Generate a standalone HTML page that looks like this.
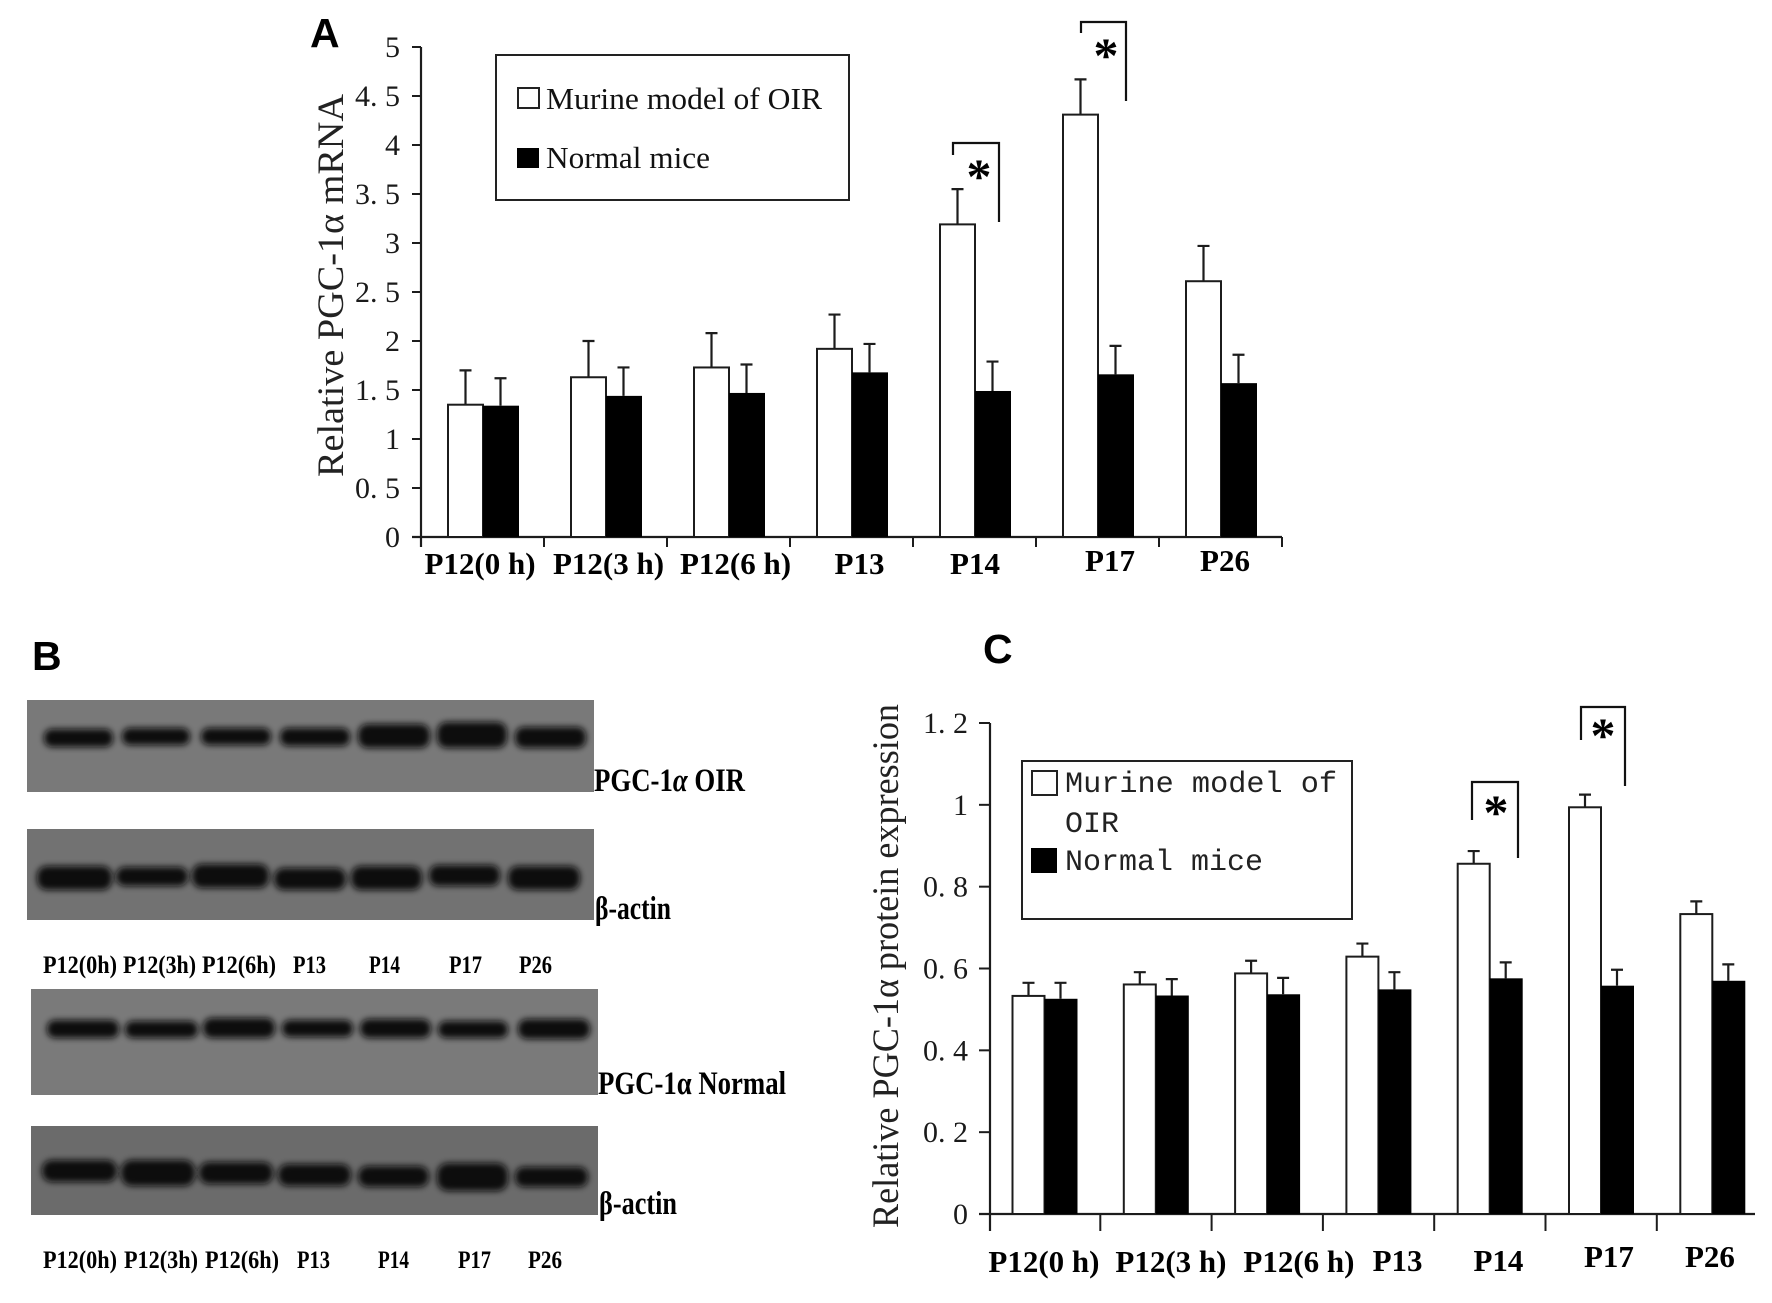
<!DOCTYPE html>
<html lang="en">
<head>
<meta charset="utf-8">
<title>PGC-1α expression in OIR and normal mice</title>
<style>
html,body{margin:0;padding:0;background:#fff;width:1772px;height:1303px;overflow:hidden}
svg{display:block}
text{font-family:"Liberation Serif",serif;fill:#111}
.panel{font-family:"Liberation Sans",sans-serif;font-weight:700;font-size:41px;fill:#000}
.title{font-size:37px;fill:#222}
.tick{font-size:30px;fill:#1a1a1a}
.xl{font-size:31px;font-weight:700;fill:#000}
.leg{font-size:31px;fill:#111}
.legm{font-family:"Liberation Mono",monospace;font-size:30px;fill:#222}
.star{font-size:50px;font-weight:700;fill:#000}
.bl{font-size:33px;font-weight:700;fill:#000}
.ll{font-size:25px;font-weight:700;fill:#000}
</style>
</head>
<body>
<svg id="figure" xmlns="http://www.w3.org/2000/svg" width="1772" height="1303" viewBox="0 0 1772 1303">
<defs>
<filter id="soft" x="-10%" y="-50%" width="120%" height="200%"><feGaussianBlur stdDeviation="3.2"/></filter>
</defs>
<rect width="1772" height="1303" fill="#fff"/>

<text class="panel" x="310" y="47">A</text>
<text class="panel" x="32" y="670">B</text>
<text class="panel" x="983" y="663">C</text>

<g id="chartA"></g>
<g id="chartC"></g>

<text class="title" transform="translate(343,477) rotate(-90)" textLength="383" lengthAdjust="spacingAndGlyphs">Relative PGC-1α mRNA</text>
<text class="title" transform="translate(898,1228) rotate(-90)" textLength="524" lengthAdjust="spacingAndGlyphs">Relative PGC-1α protein expression</text>

<g>
<rect x="496" y="55" width="353" height="145" fill="#fff" stroke="#222" stroke-width="2"/>
<rect x="518" y="88" width="21" height="20" fill="#fff" stroke="#222" stroke-width="2"/>
<text class="leg" x="546" y="109" textLength="276" lengthAdjust="spacingAndGlyphs">Murine model of OIR</text>
<rect x="517" y="148" width="22" height="20" fill="#000"/>
<text class="leg" x="546" y="168" textLength="164" lengthAdjust="spacingAndGlyphs">Normal mice</text>
</g>

<g>
<rect x="1022" y="761" width="330" height="158" fill="#fff" stroke="#222" stroke-width="2"/>
<rect x="1032" y="771" width="25" height="24" fill="#fff" stroke="#222" stroke-width="2"/>
<text class="legm" x="1065" y="792" textLength="272" lengthAdjust="spacingAndGlyphs">Murine model of</text>
<text class="legm" x="1065" y="832" textLength="54" lengthAdjust="spacingAndGlyphs">OIR</text>
<rect x="1031" y="848" width="26" height="25" fill="#000"/>
<text class="legm" x="1065" y="870" textLength="198" lengthAdjust="spacingAndGlyphs">Normal mice</text>
</g>

<g fill="none" stroke="#111" stroke-width="2.2">
<path d="M953 155V143H999V222"/>
<path d="M1081 33V22H1126V101"/>
<path d="M1472 820V782H1518V858"/>
<path d="M1581 740V707H1625V786"/>
</g>
<text class="star" text-anchor="middle" x="979" y="193">*</text>
<text class="star" text-anchor="middle" x="1106" y="72">*</text>
<text class="star" text-anchor="middle" x="1496" y="829">*</text>
<text class="star" text-anchor="middle" x="1603" y="752">*</text>

<g>
<rect x="27" y="700" width="567" height="92" fill="#797979"/>
<g fill="#0e0e0e" filter="url(#soft)">
<rect x="44" y="729" width="69" height="18" rx="8"/>
<rect x="122" y="728" width="68" height="17" rx="8"/>
<rect x="201" y="728" width="70" height="17" rx="8"/>
<rect x="280" y="728" width="70" height="18" rx="8"/>
<rect x="358" y="724" width="72" height="24" rx="10"/>
<rect x="437" y="722" width="70" height="26" rx="10"/>
<rect x="515" y="727" width="71" height="21" rx="9"/>
</g>
</g>
<g>
<rect x="27" y="829" width="567" height="91" fill="#727272"/>
<g fill="#0a0a0a" filter="url(#soft)">
<rect x="37" y="866" width="75" height="24" rx="10"/>
<rect x="116" y="867" width="72" height="19" rx="9"/>
<rect x="192" y="864" width="77" height="24" rx="10"/>
<rect x="274" y="868" width="72" height="22" rx="10"/>
<rect x="351" y="866" width="71" height="24" rx="10"/>
<rect x="429" y="865" width="71" height="21" rx="9"/>
<rect x="508" y="866" width="72" height="24" rx="10"/>
</g>
</g>
<g>
<rect x="31" y="994" width="567" height="106" fill="#7a7a7a" transform="translate(0,-5)"/>
<g fill="#0e0e0e" filter="url(#soft)">
<rect x="47" y="1020" width="72" height="18" rx="8"/>
<rect x="125" y="1021" width="73" height="17" rx="8"/>
<rect x="203" y="1018" width="72" height="20" rx="9"/>
<rect x="282" y="1020" width="71" height="17" rx="8"/>
<rect x="360" y="1019" width="71" height="19" rx="9"/>
<rect x="438" y="1021" width="70" height="17" rx="8"/>
<rect x="518" y="1019" width="72" height="20" rx="9"/>
</g>
</g>
<g>
<rect x="31" y="1126" width="567" height="89" fill="#6b6b6b"/>
<g fill="#0a0a0a" filter="url(#soft)">
<rect x="42" y="1160" width="75" height="22" rx="10"/>
<rect x="121" y="1160" width="74" height="26" rx="11"/>
<rect x="199" y="1162" width="74" height="22" rx="10"/>
<rect x="278" y="1164" width="73" height="22" rx="10"/>
<rect x="358" y="1166" width="71" height="21" rx="10"/>
<rect x="437" y="1163" width="71" height="28" rx="11"/>
<rect x="515" y="1167" width="73" height="20" rx="9"/>
</g>
</g>

<text class="bl" x="594" y="791" textLength="151" lengthAdjust="spacingAndGlyphs">PGC-1<tspan font-style="italic">α</tspan> OIR</text>
<text class="bl" x="595" y="919" textLength="76" lengthAdjust="spacingAndGlyphs">β-actin</text>
<text class="bl" x="598" y="1094" textLength="188" lengthAdjust="spacingAndGlyphs">PGC-1α Normal</text>
<text class="bl" x="599" y="1214" textLength="78" lengthAdjust="spacingAndGlyphs">β-actin</text>

<g class="ll">
<text class="ll" x="43" y="973" textLength="74" lengthAdjust="spacingAndGlyphs">P12(0h)</text>
<text class="ll" x="123" y="973" textLength="73" lengthAdjust="spacingAndGlyphs">P12(3h)</text>
<text class="ll" x="202" y="973" textLength="74" lengthAdjust="spacingAndGlyphs">P12(6h)</text>
<text class="ll" x="293" y="973" textLength="33" lengthAdjust="spacingAndGlyphs">P13</text>
<text class="ll" x="369" y="973" textLength="31" lengthAdjust="spacingAndGlyphs">P14</text>
<text class="ll" x="449" y="973" textLength="33" lengthAdjust="spacingAndGlyphs">P17</text>
<text class="ll" x="519" y="973" textLength="33" lengthAdjust="spacingAndGlyphs">P26</text>
</g>
<g class="ll">
<text class="ll" x="43" y="1268" textLength="74" lengthAdjust="spacingAndGlyphs">P12(0h)</text>
<text class="ll" x="124" y="1268" textLength="74" lengthAdjust="spacingAndGlyphs">P12(3h)</text>
<text class="ll" x="205" y="1268" textLength="74" lengthAdjust="spacingAndGlyphs">P12(6h)</text>
<text class="ll" x="297" y="1268" textLength="33" lengthAdjust="spacingAndGlyphs">P13</text>
<text class="ll" x="378" y="1268" textLength="31" lengthAdjust="spacingAndGlyphs">P14</text>
<text class="ll" x="458" y="1268" textLength="33" lengthAdjust="spacingAndGlyphs">P17</text>
<text class="ll" x="528" y="1268" textLength="34" lengthAdjust="spacingAndGlyphs">P26</text>
</g>
</svg>

<script>
// Shared categories
const categories = ["P12(0 h)", "P12(3 h)", "P12(6 h)", "P13", "P14", "P17", "P26"];

// Panel A data: relative PGC-1α mRNA
const mrnaOir = [1.35, 1.63, 1.73, 1.92, 3.19, 4.31, 2.61];
const mrnaNormal = [1.34, 1.44, 1.47, 1.68, 1.49, 1.66, 1.57];
const mrnaOirErrorTop = [1.70, 2.00, 2.08, 2.27, 3.55, 4.67, 2.97];
const mrnaNormalErrorTop = [1.62, 1.73, 1.76, 1.97, 1.79, 1.95, 1.86];
const mrnaTickValues = [0, 0.5, 1, 1.5, 2, 2.5, 3, 3.5, 4, 4.5, 5];
const mrnaTickLabels = ["0", "0. 5", "1", "1. 5", "2", "2. 5", "3", "3. 5", "4", "4. 5", "5"];

// Panel C data: relative PGC-1α protein expression
const proteinOir = [0.533, 0.561, 0.588, 0.629, 0.856, 0.994, 0.733];
const proteinNormal = [0.526, 0.534, 0.537, 0.549, 0.576, 0.558, 0.570];
const proteinOirErrorTop = [0.565, 0.591, 0.619, 0.661, 0.887, 1.025, 0.764];
const proteinNormalErrorTop = [0.565, 0.574, 0.577, 0.591, 0.615, 0.597, 0.610];
const proteinTickValues = [0, 0.2, 0.4, 0.6, 0.8, 1, 1.2];
const proteinTickLabels = ["0", "0. 2", "0. 4", "0. 6", "0. 8", "1", "1. 2"];

const NS = "http://www.w3.org/2000/svg";
const INK = "#1c1c1c";

function make(parent, tag, attrs) {
  const node = document.createElementNS(NS, tag);
  for (const key in attrs) node.setAttribute(key, attrs[key]);
  parent.appendChild(node);
  return node;
}

function drawChart(root, prefix, layout, series) {
  const yOf = v => layout.y0 - (v - layout.yMin) / (layout.yMax - layout.yMin) * (layout.y0 - layout.yTop);
  const bandStart = i => layout.x0 + layout.step * i;

  // y axis and ticks
  const yAxis = make(root, "line", {x1: layout.x0, x2: layout.x0, y1: layout.yTop, y2: layout.tickBottom, stroke: INK, "stroke-width": 2.2});
  
  

  series.tickValues.forEach((v, i) => {
    const tick = make(root, "line", {x1: layout.x0 - layout.yTickLen, x2: layout.x0, y1: yOf(v), y2: yOf(v), stroke: INK, "stroke-width": 2});
    
    
    const label = make(root, "text", {x: layout.yLabelRight, y: yOf(v) + 10, "text-anchor": "end", class: "tick"});
    label.textContent = series.tickLabels[i];
    
    
  });

  // x axis and ticks
  const xAxis = make(root, "line", {x1: layout.x0 - layout.yTickLen, x2: layout.xEnd, y1: layout.y0, y2: layout.y0, stroke: INK, "stroke-width": 2.2});
  
  

  for (let i = 1; i <= layout.xTickCount; i++) {
    const tx = bandStart(i) + layout.xTickShift;
    const tick = make(root, "line", {x1: tx, x2: tx, y1: layout.y0, y2: layout.tickBottom, stroke: INK, "stroke-width": 2});
    
    
  }

  categories.forEach((name, i) => {
    const left = bandStart(i) + layout.barInset;
    const oirX = left;
    const normalX = left + layout.barWidth;

    const oirBar = make(root, "rect", {x: oirX, y: yOf(series.oir[i]), width: layout.barWidth, height: layout.y0 - yOf(series.oir[i]), fill: "#fff", stroke: INK, "stroke-width": 2});
    
    

    const normalBar = make(root, "rect", {x: normalX, y: yOf(series.normal[i]), width: layout.barWidth + 1, height: layout.y0 - yOf(series.normal[i]), fill: "#000"});
    
    

    const oirCx = oirX + layout.barWidth / 2;
    const oirErr = make(root, "path", {d: "M" + oirCx + " " + yOf(series.oir[i]) + "V" + yOf(series.oirErr[i]) + "m-6 0h12", fill: "none", stroke: INK, "stroke-width": 2.2});
    
    

    const normalCx = normalX + layout.barWidth / 2;
    const normalErr = make(root, "path", {d: "M" + normalCx + " " + yOf(series.normal[i]) + "V" + yOf(series.normalErr[i]) + "m-6 0h12", fill: "none", stroke: INK, "stroke-width": 2.2});
    
    

    const label = make(root, "text", {x: bandStart(i) + layout.step / 2 + layout.labelNudgeX[i], y: layout.labelBaseline + layout.labelNudgeY[i], "text-anchor": "middle", class: "xl"});
    label.textContent = name;
    
    
  });
}

drawChart(document.getElementById("chartA"), "mrna",
  {x0: 421, xEnd: 1282, step: 123, y0: 537, yTop: 47, yMin: 0, yMax: 5, tickBottom: 547, yTickLen: 9, yLabelRight: 400, barInset: 27, barWidth: 35, xTickCount: 7, xTickShift: 0, labelBaseline: 574, labelNudgeX: [-2.5, 3, 7, 8, 0.5, 12.5, 4.5], labelNudgeY: [0, 0, 0, 0, 0, -3, -3]},
  {oir: mrnaOir, normal: mrnaNormal, oirErr: mrnaOirErrorTop, normalErr: mrnaNormalErrorTop, tickValues: mrnaTickValues, tickLabels: mrnaTickLabels});

drawChart(document.getElementById("chartC"), "protein",
  {x0: 990, xEnd: 1755, step: 111.3, y0: 1214, yTop: 723, yMin: 0, yMax: 1.2, tickBottom: 1231, yTickLen: 11, yLabelRight: 968, barInset: 22.5, barWidth: 32, xTickCount: 6, xTickShift: -1, labelBaseline: 1272, labelNudgeX: [-1.7, 14, 30.7, 18, 7.6, 6.8, -3.5], labelNudgeY: [0, 0, 0, -1, -1, -5, -5]},
  {oir: proteinOir, normal: proteinNormal, oirErr: proteinOirErrorTop, normalErr: proteinNormalErrorTop, tickValues: proteinTickValues, tickLabels: proteinTickLabels});
</script>
</body>
</html>
